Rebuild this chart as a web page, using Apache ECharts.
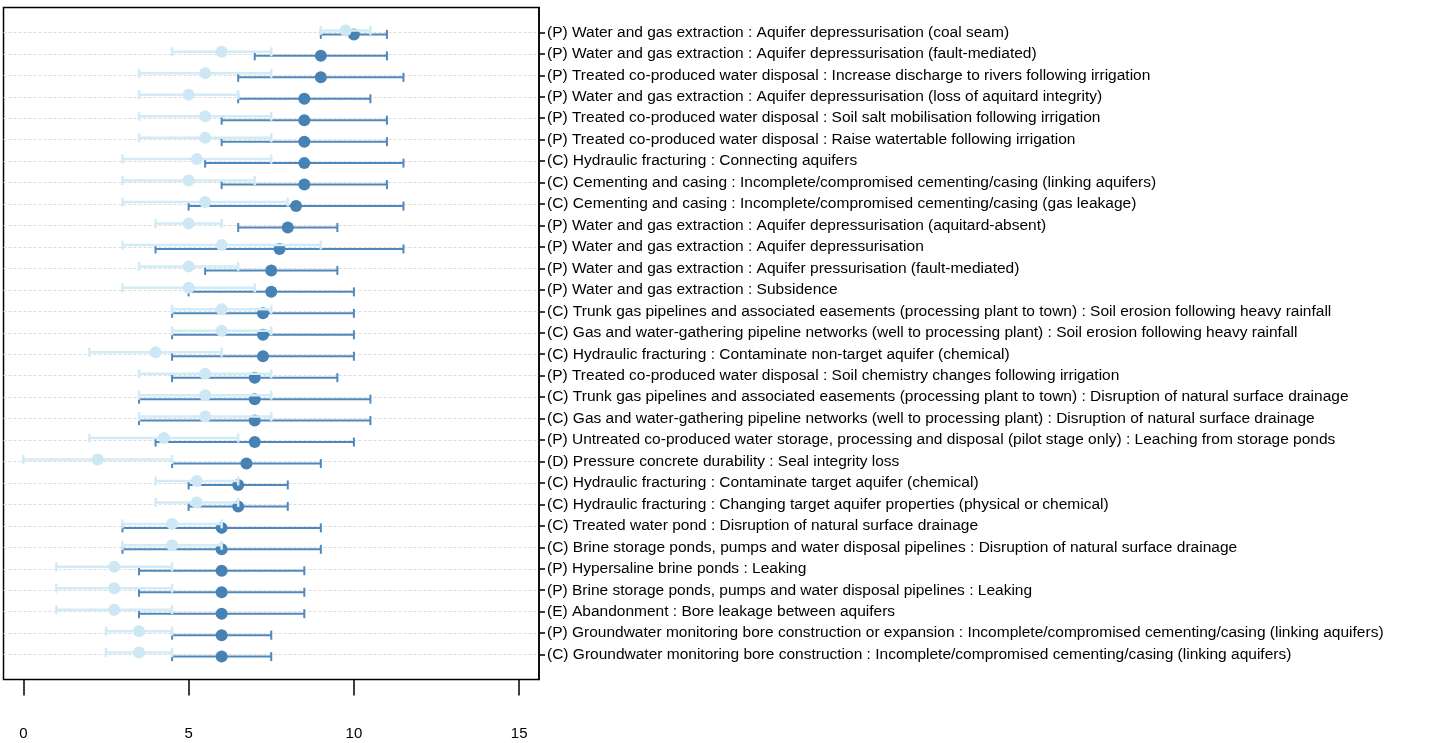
<!DOCTYPE html>
<html>
<head>
<meta charset="utf-8">
<script src="https://cdn.jsdelivr.net/npm/echarts@6/dist/echarts.min.js"></script>
<style>
html,body{margin:0;padding:0;background:#fff;}
#chart{width:1437px;height:743px;}
</style>
</head>
<body>
<div id="chart"></div>
<script>
const categories = [
  "(P) Water and gas extraction : Aquifer depressurisation (coal seam)",
  "(P) Water and gas extraction : Aquifer depressurisation (fault-mediated)",
  "(P) Treated co-produced water disposal : Increase discharge to rivers following irrigation",
  "(P) Water and gas extraction : Aquifer depressurisation (loss of aquitard integrity)",
  "(P) Treated co-produced water disposal : Soil salt mobilisation following irrigation",
  "(P) Treated co-produced water disposal : Raise watertable following irrigation",
  "(C) Hydraulic fracturing : Connecting aquifers",
  "(C) Cementing and casing : Incomplete/compromised cementing/casing (linking aquifers)",
  "(C) Cementing and casing : Incomplete/compromised cementing/casing (gas leakage)",
  "(P) Water and gas extraction : Aquifer depressurisation (aquitard-absent)",
  "(P) Water and gas extraction : Aquifer depressurisation",
  "(P) Water and gas extraction : Aquifer pressurisation (fault-mediated)",
  "(P) Water and gas extraction : Subsidence",
  "(C) Trunk gas pipelines and associated easements (processing plant to town) : Soil erosion following heavy rainfall",
  "(C) Gas and water-gathering pipeline networks (well to processing plant) : Soil erosion following heavy rainfall",
  "(C) Hydraulic fracturing : Contaminate non-target aquifer (chemical)",
  "(P) Treated co-produced water disposal : Soil chemistry changes following irrigation",
  "(C) Trunk gas pipelines and associated easements (processing plant to town) : Disruption of natural surface drainage",
  "(C) Gas and water-gathering pipeline networks (well to processing plant) : Disruption of natural surface drainage",
  "(P) Untreated co-produced water storage, processing and disposal (pilot stage only) : Leaching from storage ponds",
  "(D) Pressure concrete durability : Seal integrity loss",
  "(C) Hydraulic fracturing : Contaminate target aquifer (chemical)",
  "(C) Hydraulic fracturing : Changing target aquifer properties (physical or chemical)",
  "(C) Treated water pond : Disruption of natural surface drainage",
  "(C) Brine storage ponds, pumps and water disposal pipelines : Disruption of natural surface drainage",
  "(P) Hypersaline brine ponds : Leaking",
  "(P) Brine storage ponds, pumps and water disposal pipelines : Leaking",
  "(E) Abandonment : Bore leakage between aquifers",
  "(P) Groundwater monitoring bore construction or expansion : Incomplete/compromised cementing/casing (linking aquifers)",
  "(C) Groundwater monitoring bore construction : Incomplete/compromised cementing/casing (linking aquifers)"
];
const darkMean  = [10, 9, 9, 8.5, 8.5, 8.5, 8.5, 8.5, 8.25, 8, 7.75, 7.5, 7.5, 7.25, 7.25, 7.25, 7, 7, 7, 7, 6.75, 6.5, 6.5, 6, 6, 6, 6, 6, 6, 6];
const darkLow   = [9, 7, 6.5, 6.5, 6, 6, 5.5, 6, 5, 6.5, 4, 5.5, 5, 4.5, 4.5, 4.5, 4.5, 3.5, 3.5, 4, 4.5, 5, 5, 3, 3, 3.5, 3.5, 3.5, 4.5, 4.5];
const darkHigh  = [11, 11, 11.5, 10.5, 11, 11, 11.5, 11, 11.5, 9.5, 11.5, 9.5, 10, 10, 10, 10, 9.5, 10.5, 10.5, 10, 9, 8, 8, 9, 9, 8.5, 8.5, 8.5, 7.5, 7.5];
const lightMean = [9.75, 6, 5.5, 5, 5.5, 5.5, 5.25, 5, 5.5, 5, 6, 5, 5, 6, 6, 4, 5.5, 5.5, 5.5, 4.25, 2.25, 5.25, 5.25, 4.5, 4.5, 2.75, 2.75, 2.75, 3.5, 3.5];
const lightLow  = [9, 4.5, 3.5, 3.5, 3.5, 3.5, 3, 3, 3, 4, 3, 3.5, 3, 4.5, 4.5, 2, 3.5, 3.5, 3.5, 2, 0, 4, 4, 3, 3, 1, 1, 1, 2.5, 2.5];
const lightHigh = [10.5, 7.5, 7.5, 6.5, 7.5, 7.5, 7.5, 7, 8, 6, 9, 6.5, 7, 7.5, 7.5, 6, 7.5, 7.5, 7.5, 6.5, 4.5, 6.5, 6.5, 6, 6, 4.5, 4.5, 4.5, 4.5, 4.5];
const xTicks = [0, 5, 10, 15];

const rows = categories.map((c, i) => i + 1);
function buildData(mean, low, high) {
  return rows.map((r, i) => [r, mean[i], low[i], high[i]]);
}
function makeRender(barColor, dotColor, offset, lw, capHalf) {
  return function (params, api) {
    const row = api.value(0);
    const pm = api.coord([api.value(1), row]);
    const pl = api.coord([api.value(2), row]);
    const ph = api.coord([api.value(3), row]);
    const y = pm[1] + offset;
    return {
      type: 'group',
      children: [
        { type: 'line', shape: { x1: pl[0], y1: y, x2: ph[0], y2: y }, style: { stroke: barColor, lineWidth: lw } },
        { type: 'line', shape: { x1: pl[0], y1: y - capHalf, x2: pl[0], y2: y + capHalf }, style: { stroke: barColor, lineWidth: lw } },
        { type: 'line', shape: { x1: ph[0], y1: y - capHalf, x2: ph[0], y2: y + capHalf }, style: { stroke: barColor, lineWidth: lw } },
        { type: 'circle', shape: { cx: pm[0], cy: y, r: 6 }, style: { fill: dotColor } }
      ]
    };
  };
}

const chart = echarts.init(document.getElementById('chart'), null, { renderer: 'canvas' });
chart.setOption({
  animation: false,
  backgroundColor: '#ffffff',
  textStyle: { fontFamily: '"Liberation Sans", Arial, sans-serif' },
  grid: {
    left: 3.5, top: 7.5, right: 1437 - 539, bottom: 743 - 679.5,
    show: true, borderColor: '#000', borderWidth: 1.5, backgroundColor: 'transparent',
    containLabel: false
  },
  xAxis: {
    type: 'value', min: -0.6, max: 15.6, position: 'bottom',
    axisLine: { show: false, onZero: false },
    axisTick: { show: true, customValues: xTicks, length: 16, inside: false, lineStyle: { color: '#000', width: 1.5 } },
    axisLabel: { show: true, customValues: xTicks, margin: 47, fontSize: 15, color: '#000', fontFamily: '"Liberation Sans", Arial, sans-serif' },
    splitLine: { show: false }
  },
  yAxis: {
    type: 'value', inverse: true, min: -0.16, max: 31.16, position: 'right',
    axisLine: { show: true, onZero: false, lineStyle: { color: '#000', width: 1.5 } },
    axisTick: { show: true, customValues: rows, length: 6, inside: false, lineStyle: { color: '#000', width: 1.5 } },
    axisLabel: {
      show: true, customValues: rows, margin: 8, fontSize: 15.5, color: '#000',
      fontFamily: '"Liberation Sans", Arial, sans-serif',
      formatter: v => categories[Math.round(v) - 1] || ''
    },
    splitLine: { show: true, lineStyle: { color: '#dcdcdc', type: [3, 2], width: 1 } }
  },
  series: [
    {
      type: 'custom', name: 'dark', z: 2,
      encode: { x: [1, 2, 3], y: 0 },
      data: buildData(darkMean, darkLow, darkHigh),
      renderItem: makeRender('#4f88bd', '#4682b4', 2, 2, 4.5)
    },
    {
      type: 'custom', name: 'light', z: 3,
      encode: { x: [1, 2, 3], y: 0 },
      data: buildData(lightMean, lightLow, lightHigh),
      renderItem: makeRender('#d2ebf6', '#cde8f4', -2, 2.5, 4.5)
    }
  ]
});
</script>
</body>
</html>
